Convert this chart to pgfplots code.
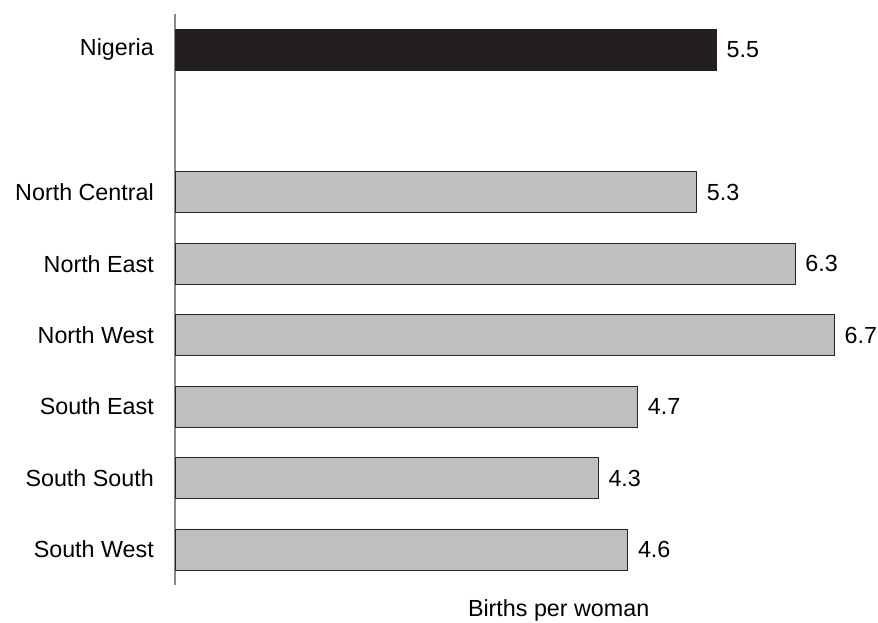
\documentclass[border=0pt]{standalone}
\usepackage{pgfplots}
\pgfplotsset{compat=1.18}
\usepackage{fontspec}
\setmainfont{Liberation Sans}
\definecolor{darkbar}{HTML}{231F20}
\definecolor{graybar}{HTML}{BEBFC1}
\definecolor{axisgray}{HTML}{8A8A8A}
\begin{document}
\begin{tikzpicture}
\path[use as bounding box] (0,0) rectangle (878pt,622pt);
\begin{axis}[
  at={(175pt,36.8pt)}, anchor=south west,
  scale only axis, width=688.8pt, height=571.4pt,
  xmin=0, xmax=7, ymin=-0.5, ymax=7.5, y dir=reverse,
  axis x line=none,
  axis y line*=left,
  y axis line style={draw=axisgray, line width=1.2pt, -},
  ytick={0,2,3,4,5,6,7},
  yticklabels={Nigeria,North Central,North East,North West,South East,South South,South West},
  ytick style={draw=none},
  major tick length=0pt,
  yticklabel style={font=\fontsize{23.3}{28}\selectfont, anchor=east, inner sep=0pt, xshift=-21pt},
  xbar, bar width=41pt, bar shift=0pt,
  nodes near coords,
  nodes near coords style={font=\fontsize{23.3}{28}\selectfont, anchor=west, inner sep=0pt, xshift=10pt},
  point meta=explicit symbolic,
  clip=false,
]
\addplot[fill=darkbar, draw=darkbar, line width=0.8pt] coordinates {(5.5,0) [5.5]};
\addplot[fill=graybar, draw=black!85, line width=0.8pt] coordinates {
(5.3,2) [5.3]
(6.3,3) [6.3]
(6.7,4) [6.7]
(4.7,5) [4.7]
(4.3,6) [4.3]
(4.6,7) [4.6]
};
\node[font=\fontsize{23.3}{28}\selectfont] at (axis description cs:0.557,0) [yshift=-25pt] {Births per woman};
\end{axis}
\end{tikzpicture}
\end{document}
